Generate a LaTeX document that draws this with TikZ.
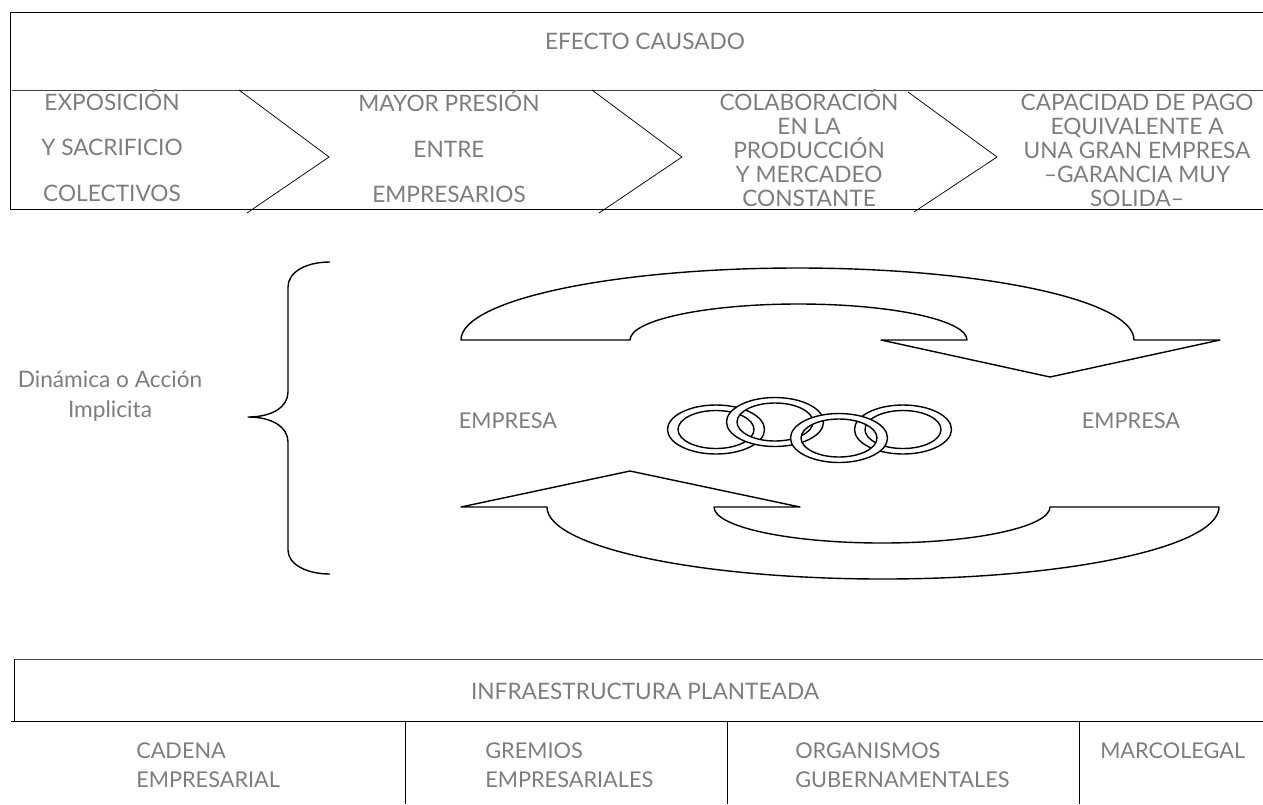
\documentclass[tikz,border=0pt]{standalone}
\usepackage{fontspec}
\setmainfont{Lato}
\definecolor{txt}{RGB}{125,125,125}
\tikzset{
  x=0.75pt,y=-0.75pt,
  lab/.style={text=txt,font=\fontsize{17}{20}\selectfont,inner sep=0pt,anchor=base},
  labs/.style={lab,font=\fontsize{16.3}{20}\selectfont},
  labl/.style={labs,anchor=base west},
  ln/.style={draw=black,line width=0.75pt,line join=miter},
  bracel/.style={draw=black,line width=1.05pt,line join=round},
  thin ln/.style={draw=black,line width=0.55pt},
  shapeln/.style={draw=black,line width=1.05pt,line join=round},
  ringband/.style={draw=black,line width=1.05pt,fill=white,even odd rule}
}
\begin{document}
\begin{tikzpicture}
\useasboundingbox (0,0) rectangle (1263,804);
% top table
\coordinate (ta) at (1263,12); \coordinate (tb) at (10,12); \coordinate (tc) at (10,209); \coordinate (td) at (1263,209);
\coordinate (te) at (12,90); \coordinate (tf) at (1263,90);
\draw[ln] (ta) -- (tb) -- (tc) -- (td);
\draw[ln,draw=black!75] (te) -- (tf);
\node[lab] (efecto) at (645,49) {EFECTO CAUSADO};
\foreach \a/\b/\c/\d/\e/\f in {239/90/329/157/247/213,592/90/682/157/599/213,908/92/997/157/914/212}{
  \draw[thin ln] (\a,\b) -- (\c,\d) -- (\e,\f);
}
\node[lab] (c1a) at (112,110) {EXPOSICIÓN};
\node[lab] (c1b) at (112,155) {Y SACRIFICIO};
\node[lab] (c1c) at (112,201) {COLECTIVOS};
\node[lab] (c2a) at (449,111) {MAYOR PRESIÓN};
\node[lab] (c2b) at (449,157) {ENTRE};
\node[lab] (c2c) at (449,202) {EMPRESARIOS};
\node[lab] (c3a) at (809,110) {COLABORACIÓN};
\node[lab] (c3b) at (809,134) {EN LA};
\node[lab] (c3c) at (809,158) {PRODUCCIÓN};
\node[lab] (c3d) at (809,182) {Y MERCADEO};
\node[lab] (c3e) at (809,206) {CONSTANTE};
\node[lab] (c4a) at (1137,110) {CAPACIDAD DE PAGO};
\node[lab] (c4b) at (1137,134) {EQUIVALENTE A};
\node[lab] (c4c) at (1137,158) {UNA GRAN EMPRESA};
\node[lab] (c4d) at (1137,182) {–GARANCIA MUY};
\node[lab] (c4e) at (1137,206) {SOLIDA–};
% brace
\coordinate (ba) at (330,262); \coordinate (bb) at (288,287); \coordinate (bc) at (288,392); \coordinate (bt) at (248,417);
\coordinate (bd) at (288,442); \coordinate (be) at (288,550); \coordinate (bf) at (330,574);
\draw[bracel] (ba) .. controls (306,262) and (288,272) .. (bb) -- (bc) .. controls (288,407) and (272,417) .. (bt)
  .. controls (272,417) and (288,427) .. (bd) -- (be) .. controls (288,564) and (306,574) .. (bf);
\node[lab] (din) at (110,387) {Dinámica o Acción};
\node[lab] (din2) at (110,417) {Implicita};
% arrows
\coordinate (a1) at (461,340);
\draw[shapeln] (a1) arc[start angle=180,end angle=360,x radius=336.5,y radius=72]
  -- (1220,340) -- (1050,377) -- (881,340) -- (967,340)
  arc[start angle=0,end angle=-180,x radius=168.5,y radius=36] -- cycle;
\coordinate (a2) at (630,471);
\draw[shapeln] (a2) -- (461,507) -- (547,507)
  arc[start angle=180,end angle=0,x radius=336,y radius=72] -- (1050,507)
  arc[start angle=0,end angle=180,x radius=168,y radius=36]
  -- (800,507) -- cycle;
\node[labs] (e1) at (508,428) {EMPRESA};
\node[labs] (e2) at (1131,428) {EMPRESA};
% rings
\foreach \cx/\cy in {716/429.5,903/429.5,775/422,839/438}{
  \path[ringband] (\cx,\cy) ellipse[x radius=48.5,y radius=24.5] (\cx,\cy) ellipse[x radius=38,y radius=19];
}
% bottom table
\coordinate (ga) at (1263,659); \coordinate (gb) at (14,659); \coordinate (gc) at (14,721);
\coordinate (gd) at (11,721); \coordinate (ge) at (1263,721);
\draw[ln,draw=black!70] (ga) -- (gb);
\draw[thin ln] (gb) -- (gc);
\draw[ln] (gd) -- (ge);
\foreach \vx in {405,727,1079}{ \draw[thin ln] (\vx,721) -- (\vx,804); }
\node[lab] (inf) at (645,699) {INFRAESTRUCTURA PLANTEADA};
\node[labl] (cad) at (136,758) {CADENA};
\node[labl] (cad2) at (136,787) {EMPRESARIAL};
\node[labl] (gre) at (485,758) {GREMIOS};
\node[labl] (gre2) at (485,787) {EMPRESARIALES};
\node[labl] (org) at (795,758) {ORGANISMOS};
\node[labl] (org2) at (795,787) {GUBERNAMENTALES};
\node[labl] (mar) at (1100,758) {MARCOLEGAL};
\end{tikzpicture}
\end{document}
